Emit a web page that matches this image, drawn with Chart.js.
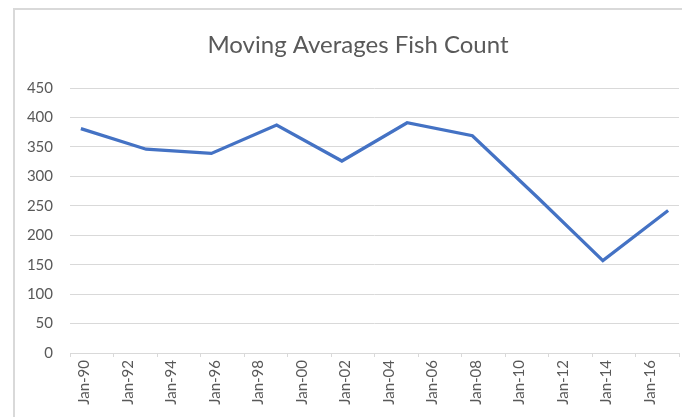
<!DOCTYPE html>
<html>
<head>
<meta charset="utf-8">
<script src="https://cdn.jsdelivr.net/npm/chart.js@4/dist/chart.umd.min.js"></script>
<style>
    body { margin: 0; background: #fff; overflow: hidden; }
    #frame {
        position: absolute; left: 13px; top: 8px;
        width: 800px; height: 500px;
        border: 2px solid #d9d9d9;
    }
    #graficoPeixes { position: absolute; left: 0; top: 0; }
</style>
</head>
<body>
<div id="frame"></div>
<canvas id="graficoPeixes" width="682" height="417"></canvas>
<script>
// =========================
// DADOS
// =========================

const chartTitle = 'Moving Averages Fish Count';
const years = [1990, 1993, 1996, 1999, 2002, 2005, 2008, 2011, 2014, 2017];
const fishCount = [381, 346, 339, 387, 326, 391, 369, 264, 157, 242];
const tickLabels = ['Jan-90', 'Jan-92', 'Jan-94', 'Jan-96', 'Jan-98', 'Jan-00', 'Jan-02',
    'Jan-04', 'Jan-06', 'Jan-08', 'Jan-10', 'Jan-12', 'Jan-14', 'Jan-16'];

const textColor = '#595959';
const gridColor = '#d9d9d9';

// title drawn by hand so it can be centred on the frame, not the canvas
const titlePlugin = {
    id: 'tituloManual',
    afterDraw(chart) {
        const c = chart.ctx;
        c.save();
        c.font = '24px Lato';
        c.fillStyle = textColor;
        c.textAlign = 'center';
        c.textBaseline = 'alphabetic';
        c.fillText(chartTitle, 358, 53);
        c.restore();
    }
};

const graficoPeixes = document.getElementById('graficoPeixes');

if (graficoPeixes) {

    const ctx = graficoPeixes.getContext('2d');

    new Chart(ctx, {
        type: 'line',
        data: {
            datasets: [{
                label: chartTitle,
                data: years.map((y, i) => ({ x: y, y: fishCount[i] })),
                borderColor: '#4472C4',
                backgroundColor: '#4472C4',
                borderWidth: 3.25,
                pointRadius: 0,
                tension: 0
            }]
        },
        options: {
            responsive: false,
            animation: false,
            layout: {
                padding: { left: 14, right: 3, top: 88, bottom: 0 }
            },
            scales: {
                x: {
                    type: 'linear',
                    min: years[0] - 0.5,
                    max: years[0] - 0.5 + tickLabels.length * 2,
                    afterBuildTicks: (scale) => {
                        const t = [];
                        for (let i = 0; i <= tickLabels.length; i++) {
                            t.push({ value: years[0] - 0.5 + i * 2 });
                        }
                        scale.ticks = t;
                    },
                    afterFit: (scale) => {
                        scale.height = 64;
                        scale.paddingLeft = 0;
                        scale.paddingRight = 0;
                    },
                    grid: {
                        drawOnChartArea: false,
                        drawTicks: true,
                        tickLength: 4,
                        color: gridColor
                    },
                    border: { color: gridColor },
                    ticks: {
                        autoSkip: false,
                        minRotation: 90,
                        maxRotation: 90,
                        padding: 3,
                        labelOffset: 14.5,
                        color: textColor,
                        font: { family: 'Lato', size: 15 },
                        callback: (value, index) => tickLabels[index] || ''
                    }
                },
                y: {
                    min: 0,
                    max: 450,
                    afterFit: (scale) => { scale.width = 56; },
                    grid: {
                        color: gridColor,
                        drawTicks: false
                    },
                    border: { display: false },
                    ticks: {
                        stepSize: 50,
                        padding: 17,
                        color: textColor,
                        font: { family: 'Lato', size: 15 }
                    }
                }
            },
            plugins: {
                legend: { display: false },
                title: { display: false },
                tooltip: { enabled: false }
            }
        },
        plugins: [titlePlugin]
    });
}
</script>
</body>
</html>
